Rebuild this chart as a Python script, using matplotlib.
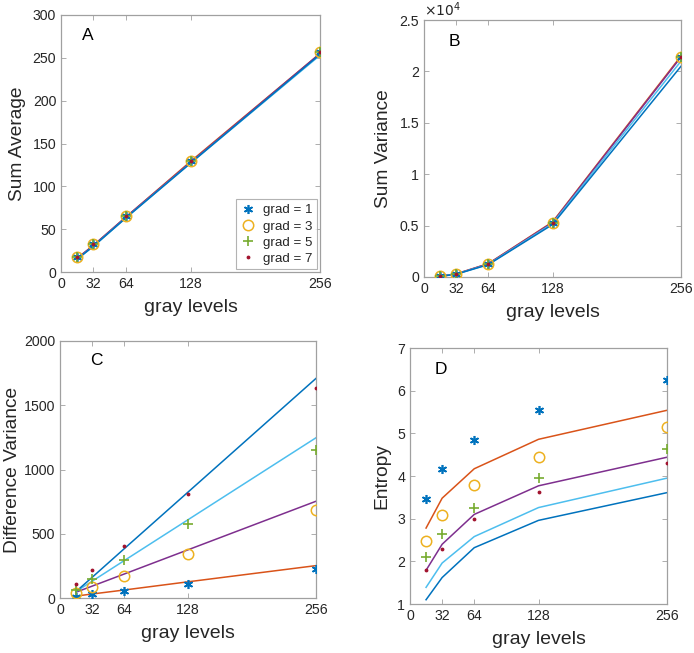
import matplotlib
matplotlib.use("Agg")
import matplotlib.pyplot as plt
import numpy as np

plt.rcParams['font.family'] = ['Liberation Sans', 'DejaVu Sans']

gray_levels = [16, 32, 64, 128, 256]
xticks = [0, 32, 64, 128, 256]
grad_labels = ['grad = 1', 'grad = 3', 'grad = 5', 'grad = 7']

# Panel A: Sum Average
sa_grad1 = [17, 33, 65, 129, 257]
sa_grad3 = [17, 33, 65, 129, 257]
sa_grad5 = [17, 33, 65, 129, 257]
sa_grad7 = [17, 33, 65, 129, 257]
sa_line_orange = [16, 31, 64, 129, 255]
sa_line_purple = [16, 31, 64, 128, 255]
sa_line_lblue = [15, 30, 63, 127, 253]
sa_line_dblue = [15, 30, 63, 127, 254]

# Panel B: Sum Variance
sv_grad1 = [70, 290, 1250, 5300, 21400]
sv_grad3 = [70, 290, 1250, 5300, 21400]
sv_grad5 = [70, 290, 1250, 5300, 21400]
sv_grad7 = [70, 290, 1250, 5300, 21400]
sv_line_orange = [70, 300, 1300, 5350, 21500]
sv_line_purple = [68, 295, 1280, 5300, 21400]
sv_line_lblue = [65, 280, 1230, 5200, 21000]
sv_line_dblue = [60, 270, 1200, 5100, 20500]

# Panel C: Difference Variance
dv_grad1 = [8, 31, 57, 109, 229]
dv_grad3 = [39, 86, 169, 343, 688]
dv_grad5 = [65, 148, 299, 579, 1148]
dv_grad7 = [109, 221, 403, 813, 1631]
dv_line_orange = [15, 31, 62, 126, 252]
dv_line_purple = [45, 92, 186, 375, 753]
dv_line_lblue = [50, 130, 290, 609, 1247]
dv_line_dblue = [50, 160, 382, 824, 1709]

# Panel D: Entropy
en_grad1 = [3.46, 4.16, 4.84, 5.54, 6.24]
en_grad3 = [2.48, 3.08, 3.78, 4.45, 5.15]
en_grad5 = [2.09, 2.64, 3.26, 3.95, 4.64]
en_grad7 = [1.79, 2.30, 3.00, 3.63, 4.31]
en_line_orange = [2.78, 3.48, 4.17, 4.86, 5.54]
en_line_purple = [1.79, 2.40, 3.10, 3.77, 4.44]
en_line_lblue = [1.39, 1.96, 2.58, 3.26, 3.95]
en_line_dblue = [1.10, 1.62, 2.32, 2.96, 3.61]

C_BLUE = '#0072BD'
C_ORANGE = '#D95319'
C_YELLOW = '#EDB120'
C_PURPLE = '#7E2F8E'
C_GREEN = '#77AC30'
C_LBLUE = '#4DBEEE'
C_RED = '#A2142F'
SPINE = '#a0a0a0'
TXT = '#262626'

ASTER = (6, 2, 0)

fig = plt.figure(figsize=(6.94, 6.53), dpi=100)

rects = {
    'A': [61/694, (653-272)/653, 259/694, 257/653],
    'B': [424/694, (653-277)/653, 257/694, 257/653],
    'C': [60/694, (653-598)/653, 256/694, 257/653],
    'D': [410/694, (653-604)/653, 257/694, 256/653],
}

def style(ax, ylim, yticks, ylabel, letter, lpos, yticklabels=None, ylabelpad=5):
    ax.set_xlim(0, 256)
    ax.set_ylim(*ylim)
    ax.set_xticks(xticks)
    ax.set_yticks(yticks)
    if yticklabels is not None:
        ax.set_yticklabels(yticklabels)
    for s in ax.spines.values():
        s.set_color(SPINE)
        s.set_linewidth(0.9)
    ax.tick_params(direction='in', length=3.5, width=0.6, color=SPINE,
                   labelsize=10.2, labelcolor=TXT, top=True, right=True, pad=3.5)
    ax.set_xlabel('gray levels', fontsize=14, color=TXT, labelpad=6)
    ax.set_ylabel(ylabel, fontsize=13.8, color=TXT, labelpad=ylabelpad)
    ax.text(lpos[0], lpos[1], letter, transform=ax.transAxes, fontsize=12.5,
            color='black', ha='center', va='center')

def draw(ax, lines, pts, legend=False):
    for vals, c in zip(lines, [C_ORANGE, C_PURPLE, C_LBLUE, C_BLUE]):
        ax.plot(gray_levels, vals, color=c, lw=1.1, zorder=2)
    h1, = ax.plot(gray_levels, pts[0], ls='none', marker=ASTER, ms=6.5, mew=1.2,
                  color=C_BLUE, zorder=3)
    h3, = ax.plot(gray_levels, pts[1], ls='none', marker='o', ms=7.5, mew=1.1,
                  mfc='none', mec=C_YELLOW, zorder=3)
    h5, = ax.plot(gray_levels, pts[2], ls='none', marker='+', ms=7.5, mew=1.2,
                  color=C_GREEN, zorder=3)
    h7, = ax.plot(gray_levels, pts[3], ls='none', marker='.', ms=3.5,
                  color=C_RED, zorder=3)
    if legend:
        leg = ax.legend([h1, h3, h5, h7], grad_labels, loc='lower right',
                        fontsize=9.6, frameon=True, fancybox=False,
                        borderpad=0.35, handlelength=1.2, handletextpad=0.5,
                        labelspacing=0.28, borderaxespad=0.2,
                        bbox_to_anchor=(1.0, 0.0))
        leg.get_frame().set_edgecolor(SPINE)
        leg.get_frame().set_linewidth(0.8)
        for t in leg.get_texts():
            t.set_color(TXT)

axA = fig.add_axes(rects['A'])
draw(axA, [sa_line_orange, sa_line_purple, sa_line_lblue, sa_line_dblue],
     [sa_grad1, sa_grad3, sa_grad5, sa_grad7], legend=True)
style(axA, (0, 300), np.arange(0, 301, 50), 'Sum Average', 'A', (0.105, 0.92))

axB = fig.add_axes(rects['B'])
draw(axB, [sv_line_orange, sv_line_purple, sv_line_lblue, sv_line_dblue],
     [sv_grad1, sv_grad3, sv_grad5, sv_grad7])
style(axB, (0, 25000), np.arange(0, 25001, 5000), 'Sum Variance', 'B', (0.117, 0.915),
      yticklabels=['0', '0.5', '1', '1.5', '2', '2.5'])
axB.text(0.0, 1.005, r'$\times10^4$', transform=axB.transAxes, fontsize=10,
         color=TXT, ha='left', va='bottom')

axC = fig.add_axes(rects['C'])
draw(axC, [dv_line_orange, dv_line_purple, dv_line_lblue, dv_line_dblue],
     [dv_grad1, dv_grad3, dv_grad5, dv_grad7])
style(axC, (0, 2000), np.arange(0, 2001, 500), 'Difference Variance', 'C', (0.144, 0.926),
      ylabelpad=2)

axD = fig.add_axes(rects['D'])
draw(axD, [en_line_orange, en_line_purple, en_line_lblue, en_line_dblue],
     [en_grad1, en_grad3, en_grad5, en_grad7])
style(axD, (1, 7), np.arange(1, 8, 1), 'Entropy', 'D', (0.12, 0.915))

fig.savefig('out.png', dpi=100)
